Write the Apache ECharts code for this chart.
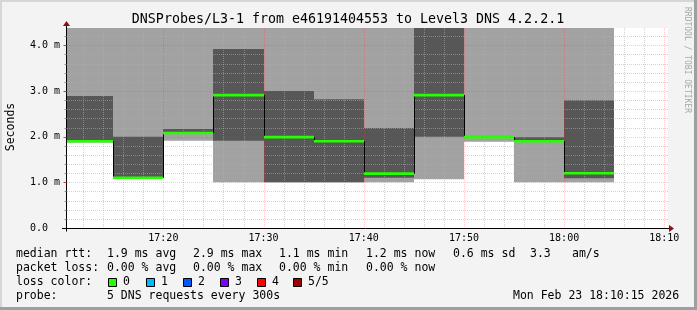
<!DOCTYPE html>
<html><head><meta charset="utf-8">
<script src="https://cdn.jsdelivr.net/npm/echarts@6/dist/echarts.min.js"></script>
<style>html,body{margin:0;padding:0;background:#f3f3f3}#c{width:697px;height:310px}</style>
</head><body><div id="c"></div><script>
// ---- data (times are step end times; each step is 5 minutes) ----
const slotEnd   = ['17:15','17:20','17:25','17:30','17:35','17:40','17:45','17:50','17:55','18:00','18:05'];
const minRtt    = [1.88, 1.10, 1.91, 1.00, 1.00, 1.00, 1.00, 1.07, 1.89, 1.00, 1.00];
const lowRtt    = [1.88, 1.10, 2.07, 1.91, 1.00, 1.00, 1.10, 2.00, 1.98, 1.90, 1.09];
const highRtt   = [2.89, 2.00, 2.17, 3.92, 3.00, 2.82, 2.19, 4.80, 2.01, 1.99, 2.80];
const maxRtt    = [4.80, 4.80, 4.80, 4.80, 4.80, 4.80, 4.80, 4.80, 4.80, 4.80, 4.80];
const medianRtt = [1.90, 1.10, 2.08, 2.91, 1.99, 1.90, 1.19, 2.91, 1.99, 1.90, 1.20];
const xTickLabels = ['17:20','17:30','17:40','17:50','18:00','18:10'];
const yTickValues = [0, 1, 2, 3, 4];
const yTickLabels = ['0.0  ', '1.0 m', '2.0 m', '3.0 m', '4.0 m'];
const axisStart = '17:10:23', axisEnd = '18:10:22';
const yMax = 4.38;
const titleText = 'DNSProbes/L3-1 from e46191404553 to Level3 DNS 4.2.2.1';
const rttStats  = ['1.9 ms avg', '2.9 ms max', '1.1 ms min', '1.2 ms now', '0.6 ms sd', '3.3', 'am/s'];
const lossStats = ['0.00 % avg', '0.00 % max', '0.00 % min', '0.00 % now'];
const lossNames  = ['0', '1', '2', '3', '4', '5/5'];
const lossColors = ['#26ff00', '#00b8ff', '#0059ff', '#7e00ff', '#ff0000', '#a10000'];
const probeText = '5 DNS requests every 300s';
const stampText = 'Mon Feb 23 18:10:15 2026';

function toMin(s){ const p = s.split(':').map(Number); return (p[0]-17)*60 + p[1] + (p[2]||0)/60; }
const xMin = toMin(axisStart), xMax = toMin(axisEnd);
const xTickValues = xTickLabels.map(toMin);
const STEP = 5;

// grid tick positions
const gridTicks = [];
for (let m = 12; m <= 70; m += 2) gridTicks.push(['v', m, m % 10 === 0 ? 1 : 0]);
for (let k = 1; k <= 21; k++) { const v = k / 5; gridTicks.push(['h', v, k % 5 === 0 ? 1 : 0]); }

const LIGHT = '#a2a2a2', DARK = '#575757';
const MONO = '"DejaVu Sans Mono"';

function clampRect(params, api, t0, t1, v0, v1, color) {
  const cs = params.coordSys;
  let xa = Math.round(api.coord([t0, 0])[0]);
  let xb = Math.round(api.coord([t1, 0])[0]);
  xa = Math.max(xa, cs.x); xb = Math.min(xb, cs.x + cs.width);
  let ya = api.coord([xMin, v1])[1], yb = api.coord([xMin, v0])[1];
  ya = Math.max(ya, cs.y); yb = Math.min(yb, cs.y + cs.height);
  return { type: 'rect', shape: { x: xa, y: ya, width: Math.max(0, xb - xa), height: Math.max(0, yb - ya) }, style: { fill: color } };
}

const smokeData = slotEnd.map((t, i) => [toMin(t) - STEP, toMin(t), minRtt[i], maxRtt[i], lowRtt[i], highRtt[i]]);
const medianData = slotEnd.map((t, i) => [toMin(t) - STEP, toMin(t), medianRtt[i]]);
const stepData = slotEnd.slice(1).map((t, i) => [toMin(slotEnd[i]), medianRtt[i], medianRtt[i + 1]]);

const chart = echarts.init(document.getElementById('c'), null, { renderer: 'canvas' });

const graphics = [
  { type: 'rect', shape: { x: 0, y: 0, width: 697, height: 2 }, style: { fill: '#d6d6d6' }, z: 100 },
  { type: 'rect', shape: { x: 0, y: 0, width: 2, height: 310 }, style: { fill: '#d6d6d6' }, z: 100 },
  { type: 'rect', shape: { x: 0, y: 307, width: 697, height: 3 }, style: { fill: '#9f9f9f' }, z: 100 },
  { type: 'rect', shape: { x: 694, y: 0, width: 3, height: 310 }, style: { fill: '#9f9f9f' }, z: 100 },
  { type: 'text', x: 348, y: 19.5, style: { text: titleText, font: '13.3px ' + MONO, fill: '#000', textAlign: 'center', textVerticalAlign: 'middle', verticalAlign: 'middle' } },
  { type: 'text', x: 11, y: 127, rotation: Math.PI / 2, style: { text: 'Seconds', font: '11.5px ' + MONO, fill: '#000', textAlign: 'center', textVerticalAlign: 'middle', verticalAlign: 'middle' } },
  { type: 'text', x: 687, y: 60, rotation: -Math.PI / 2, style: { text: 'RRDTOOL / TOBI OETIKER', font: '8px ' + MONO, fill: '#a8a8a8', textAlign: 'center', textVerticalAlign: 'middle', verticalAlign: 'middle' } }
];
function addText(x, y, s) {
  graphics.push({ type: 'text', x: x, y: y, style: { text: s, font: '11.5px ' + MONO, fill: '#000', textAlign: 'left', textVerticalAlign: 'middle', verticalAlign: 'middle' } });
}
const row = [254.5, 268.5, 282, 296];
addText(16, row[0], 'median rtt:');
[107, 193, 279, 366, 453, 530, 572].forEach((x, i) => addText(x, row[0], rttStats[i]));
addText(16, row[1], 'packet loss:');
[107, 193, 279, 366].forEach((x, i) => addText(x, row[1], lossStats[i]));
addText(16, row[2], 'loss color:');
const swX = [108, 146, 183, 220, 257, 293];
lossNames.forEach((n, i) => {
  graphics.push({ type: 'rect', shape: { x: swX[i] + 0.5, y: 278.5, width: 8, height: 8 }, style: { fill: lossColors[i], stroke: '#000', lineWidth: 1 } });
  addText(swX[i] + 15, row[2], n);
});
addText(16, row[3], 'probe:');
addText(107, row[3], probeText);
addText(513, row[3], stampText);

chart.setOption({
  animation: false,
  backgroundColor: '#f3f3f3',
  grid: { left: 67, top: 28, width: 601, height: 200, show: true, backgroundColor: '#ffffff', borderWidth: 0 },
  xAxis: {
    type: 'value', min: xMin, max: xMax,
    axisLine: { show: false }, axisTick: { show: false }, splitLine: { show: false },
    axisLabel: {
      customValues: xTickValues, margin: 5, color: '#000', fontFamily: 'DejaVu Sans Mono', fontSize: 10,
      formatter: v => { const i = xTickValues.findIndex(t => Math.abs(t - v) < 1e-6); return i >= 0 ? xTickLabels[i] : ''; }
    }
  },
  yAxis: {
    type: 'value', min: 0, max: yMax,
    axisLine: { show: false }, axisTick: { show: false }, splitLine: { show: false },
    axisLabel: {
      customValues: yTickValues, margin: 7, color: '#000', fontFamily: 'DejaVu Sans Mono', fontSize: 10,
      formatter: v => { const i = yTickValues.indexOf(v); return i >= 0 ? yTickLabels[i] : ''; }
    }
  },
  graphic: graphics,
  series: [
    { type: 'custom', name: 'smoke', z: 1, silent: true, data: smokeData,
      renderItem: (params, api) => ({ type: 'group', children: [
        clampRect(params, api, api.value(0), api.value(1), api.value(2), api.value(3), LIGHT),
        clampRect(params, api, api.value(0), api.value(1), api.value(4), api.value(5), DARK)
      ] }) },
    { type: 'custom', name: 'grid', z: 2, silent: true, data: gridTicks,
      dimensions: ['dir', 'val', 'major'],
      renderItem: (params, api) => {
        const cs = params.coordSys;
        const t = gridTicks[params.dataIndex];
        const col = t[2] ? 'rgba(235,50,50,0.26)' : 'rgba(175,175,175,0.55)';
        let shape;
        if (t[0] === 'v') {
          const x = Math.round(api.coord([t[1], 0])[0]) + 0.5;
          shape = { x1: x, y1: cs.y, x2: x, y2: cs.y + cs.height };
        } else {
          const y = Math.round(api.coord([xMin, t[1]])[1]) + 0.5;
          shape = { x1: cs.x, y1: y, x2: cs.x + cs.width, y2: y };
        }
        return { type: 'line', shape: shape, style: { stroke: col, lineWidth: 1, lineDash: [1, 1] } };
      } },
    { type: 'custom', name: 'frame', z: 3, silent: true, data: [[xMin, 0]],
      renderItem: (params, api) => {
        const cs = params.coordSys;
        const bx = Math.round(api.coord([xMin, 0])[0]) - 0.5;
        const by = Math.round(api.coord([xMin, 0])[1]) + 0.5;
        const ch = [
          { type: 'line', shape: { x1: cs.x - 5, y1: by, x2: cs.x + cs.width + 1, y2: by }, style: { stroke: '#000', lineWidth: 1 } },
          { type: 'line', shape: { x1: bx, y1: by + 3, x2: bx, y2: cs.y - 2 }, style: { stroke: '#000', lineWidth: 1 } },
          { type: 'polygon', shape: { points: [[cs.x + cs.width + 1, by - 3.5], [cs.x + cs.width + 6, by], [cs.x + cs.width + 1, by + 3.5]] }, style: { fill: '#8b1010' } },
          { type: 'polygon', shape: { points: [[bx - 3.5, cs.y - 2], [bx, cs.y - 7], [bx + 3.5, cs.y - 2]] }, style: { fill: '#8b1010' } }
        ];
        gridTicks.forEach(t => {
          if (t[0] === 'h') {
            const y = Math.round(api.coord([xMin, t[1]])[1]) + 0.5;
            ch.push({ type: 'line', shape: { x1: bx - (t[2] ? 3 : 2), y1: y, x2: bx, y2: y }, style: { stroke: t[2] ? '#c04040' : '#909090', lineWidth: 1 } });
          }
        });
        return { type: 'group', children: ch };
      } },
    { type: 'custom', name: 'steps', z: 4, silent: true, data: stepData,
      renderItem: (params, api) => {
        const x = Math.round(api.coord([api.value(0), 0])[0]) + 0.5;
        const y1 = api.coord([xMin, api.value(1)])[1], y2 = api.coord([xMin, api.value(2)])[1];
        return { type: 'line', shape: { x1: x, y1: y1, x2: x, y2: y2 }, style: { stroke: '#000', lineWidth: 1 } };
      } },
    { type: 'custom', name: 'median', z: 5, silent: true, data: medianData,
      renderItem: (params, api) => {
        const cs = params.coordSys;
        let xa = Math.round(api.coord([api.value(0), 0])[0]);
        let xb = Math.round(api.coord([api.value(1), 0])[0]);
        xa = Math.max(xa, cs.x); xb = Math.min(xb, cs.x + cs.width);
        const yc = api.coord([xMin, api.value(2)])[1];
        return { type: 'rect', shape: { x: xa, y: yc - 1.3, width: xb - xa, height: 2.6 }, style: { fill: lossColors[0] } };
      } }
  ]
});
</script></body></html>
